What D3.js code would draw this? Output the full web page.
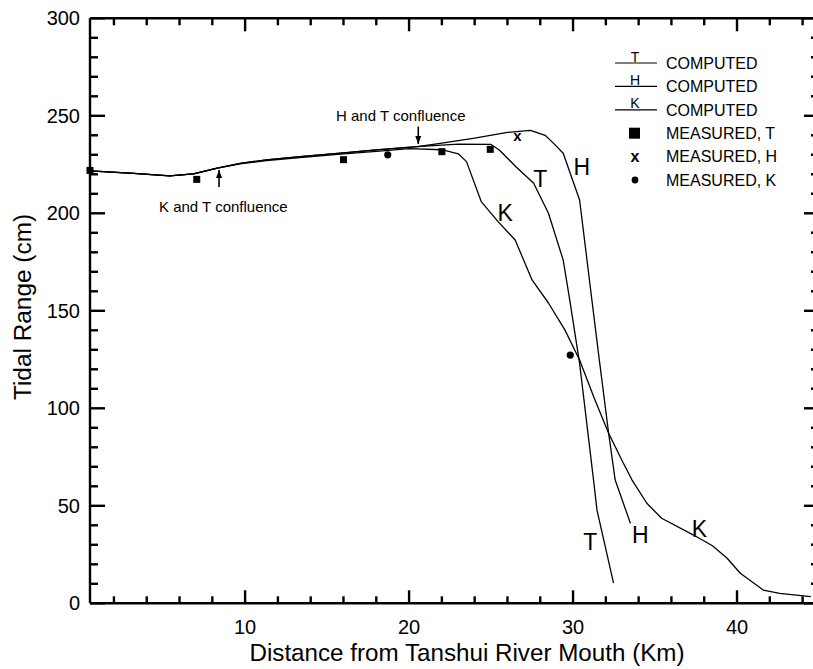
<!DOCTYPE html>
<html>
<head>
<meta charset="utf-8">
<script src="https://cdn.jsdelivr.net/npm/d3@7"></script>
<style>
  body { margin: 0; background: #fff; }
  text { font-family: "Liberation Sans", Arial, Helvetica, sans-serif; fill: #000; }
</style>
</head>
<body>
<svg id="chart" width="813" height="669"></svg>
<script>
// Computed tidal range along each river (distance km, range cm)
const distT  = [0.54, 3.2, 5.4, 6.85, 8.3, 9.7, 11.3, 13.35, 16, 18, 20.5, 23, 25, 25.5, 26.5, 27.6, 28.5, 29.4, 29.8, 30.4, 31.25, 31.46, 32.47];
const rangeT = [221.8, 220.5, 219.2, 220.2, 223.2, 225.6, 227.4, 229.1, 231, 232.5, 234.2, 235.5, 235.3, 232.5, 224, 215.4, 200, 176, 155.5, 123, 63.2, 47.8, 10.3];

const distH  = [0.54, 3.2, 5.4, 6.85, 8.3, 9.7, 11.3, 13.35, 16, 18, 20.5, 22, 24, 26, 27.4, 28.3, 28.8, 29.4, 30.4, 31.15, 31.6, 32.17, 32.57, 33.5];
const rangeH = [221.8, 220.5, 219.2, 220.2, 223.2, 225.6, 227.4, 229.1, 231, 232.5, 234.2, 236, 238.5, 241.5, 242.5, 240, 236, 230.8, 206.8, 155.5, 125, 87.2, 63.2, 41];

const distK  = [0.54, 3.2, 5.4, 6.85, 8.3, 9.7, 11.3, 13.35, 16, 18, 20, 22, 23, 23.5, 24.4, 25.4, 26.47, 27.5, 28.5, 29.5, 30.4, 31.3, 32.17, 33, 33.6, 34.5, 35.4, 37.35, 38.5, 39.4, 40.2, 41.6, 42.6, 44.5];
const rangeK = [221.8, 220.5, 219.2, 220.2, 223.2, 225.4, 227, 228.6, 230.5, 231.8, 233.2, 232.6, 230.5, 226.5, 206, 196, 186.3, 165.8, 154, 140.2, 124.8, 105, 87.2, 73, 63.2, 51.3, 43.6, 35, 29.5, 23.1, 15.4, 6.8, 5.1, 3.4];

// Measured tidal range
const measDistT  = [0.54, 7.05, 16.0, 22.0, 24.95];
const measRangeT = [222, 217.4, 227.5, 231.6, 232.8];
const measDistH  = [26.6];
const measRangeH = [239.5];
const measDistK  = [18.7, 29.83];
const measRangeK = [230, 127.3];

// Axis ticks
const xMajorTicks = [10, 20, 30, 40];
const xMinorTicks = [2, 4, 6, 8, 12, 14, 16, 18, 22, 24, 26, 28, 32, 34, 36, 38, 42, 44];
const yMajorTicks = [0, 50, 100, 150, 200, 250, 300];
const yMinorTicks = [10, 20, 30, 40, 60, 70, 80, 90, 110, 120, 130, 140, 160, 170, 180, 190, 210, 220, 230, 240, 260, 270, 280, 290];

// Curve name labels (km, cm)
const curveLabels = [
  { name: "T", d: 28.0,  r: 217.4 },
  { name: "K", d: 25.86, r: 200 },
  { name: "H", d: 30.54, r: 223.6 },
  { name: "T", d: 31.05, r: 31.6 },
  { name: "H", d: 34.1,  r: 35 },
  { name: "K", d: 37.7,  r: 38.1 }
];

// Confluence annotations: arrow from r0 (tail) to r1 (head)
const confluences = [
  { text: "K and T confluence", d: 8.41,  r0: 213.5, r1: 222.2, tx: 159, ty: 211.7 },
  { text: "H and T confluence", d: 20.56, r0: 244.5, r1: 235.5, tx: 336, ty: 121 }
];

const legendItems = [
  { kind: "line", letter: "T", text: "COMPUTED" },
  { kind: "line", letter: "H", text: "COMPUTED" },
  { kind: "line", letter: "K", text: "COMPUTED" },
  { kind: "square", text: "MEASURED, T" },
  { kind: "cross", text: "MEASURED, H" },
  { kind: "dot", text: "MEASURED, K" }
];

const svg = d3.select("#chart");
const pLeft = 90, pRight = 819, pTop = 18.3, pBottom = 603.3;

const x = d3.scaleLinear().domain([0.54, 45.0]).range([pLeft, pRight]);
const y = d3.scaleLinear().domain([0, 300]).range([pBottom, pTop]);

const plot = svg.append("g");

// Computed curves
const line = d3.line().x(d => x(d[0])).y(d => y(d[1])).curve(d3.curveLinear);
[[distT, rangeT], [distH, rangeH], [distK, rangeK]].forEach(([ds, rs]) => {
  plot.append("path")
    .attr("d", line(ds.map((d, i) => [d, rs[i]])))
    .attr("fill", "none")
    .attr("stroke", "#000")
    .attr("stroke-width", 1.3)
    .attr("stroke-linejoin", "round");
});

// Measured points
plot.selectAll(".sq").data(measDistT.map((d, i) => [d, measRangeT[i]])).join("rect")
  .attr("x", d => x(d[0]) - 3.5).attr("y", d => y(d[1]) - 3.5)
  .attr("width", 7).attr("height", 7).attr("fill", "#000");
plot.selectAll(".cx").data(measDistH.map((d, i) => [d, measRangeH[i]])).join("text")
  .attr("x", d => x(d[0])).attr("y", d => y(d[1]) + 5)
  .attr("text-anchor", "middle").attr("font-size", 15).attr("font-weight", "bold").text("x");
plot.selectAll(".dt").data(measDistK.map((d, i) => [d, measRangeK[i]])).join("circle")
  .attr("cx", d => x(d[0])).attr("cy", d => y(d[1])).attr("r", 3.6).attr("fill", "#000");

// Curve name labels
plot.selectAll(".cl").data(curveLabels).join("text")
  .attr("x", d => x(d.d)).attr("y", d => y(d.r) + 8)
  .attr("text-anchor", "middle").attr("font-size", 23).text(d => d.name);

// Confluence arrows and notes
confluences.forEach(c => {
  const ax = x(c.d);
  const yHead = y(c.r1);
  const yTail = y(c.r0);
  plot.append("line").attr("x1", ax).attr("x2", ax)
    .attr("y1", yTail).attr("y2", yHead).attr("stroke", "#000").attr("stroke-width", 1.6);
  const dir = yTail > yHead ? 1 : -1;
  plot.append("path")
    .attr("d", `M${ax},${yHead} L${ax - 3},${yHead + dir * 8} L${ax + 3},${yHead + dir * 8} Z`)
    .attr("fill", "#000");
  svg.append("text").attr("x", c.tx).attr("y", c.ty).attr("font-size", 15).text(c.text);
});

// Frame and ticks
const axisG = svg.append("g");
const thick = 2.4;
axisG.append("line").attr("x1", pLeft).attr("x2", pRight + 5).attr("y1", pBottom).attr("y2", pBottom).attr("stroke", "#000").attr("stroke-width", thick);
axisG.append("line").attr("x1", pLeft).attr("x2", pRight + 5).attr("y1", pTop).attr("y2", pTop).attr("stroke", "#000").attr("stroke-width", thick);
axisG.append("line").attr("x1", pLeft).attr("x2", pLeft).attr("y1", pTop).attr("y2", pBottom).attr("stroke", "#000").attr("stroke-width", thick);
axisG.append("line").attr("x1", pRight).attr("x2", pRight).attr("y1", pTop).attr("y2", pBottom).attr("stroke", "#000").attr("stroke-width", thick);

function xTicks(vals, len) {
  vals.forEach(v => {
    axisG.append("line").attr("x1", x(v)).attr("x2", x(v)).attr("y1", pBottom).attr("y2", pBottom - len).attr("stroke", "#000").attr("stroke-width", thick);
    axisG.append("line").attr("x1", x(v)).attr("x2", x(v)).attr("y1", pTop).attr("y2", pTop + len).attr("stroke", "#000").attr("stroke-width", thick);
  });
}
function yTicks(vals, len) {
  vals.forEach(v => {
    axisG.append("line").attr("x1", pLeft).attr("x2", pLeft + len).attr("y1", y(v)).attr("y2", y(v)).attr("stroke", "#000").attr("stroke-width", thick);
    axisG.append("line").attr("x1", pRight).attr("x2", pRight - len).attr("y1", y(v)).attr("y2", y(v)).attr("stroke", "#000").attr("stroke-width", thick);
  });
}
xTicks(xMajorTicks, 13); xTicks(xMinorTicks, 7);
yTicks(yMajorTicks, 15); yTicks(yMinorTicks, 8);

// Tick labels
svg.selectAll(".xl").data(xMajorTicks).join("text")
  .attr("x", d => x(d)).attr("y", 634).attr("text-anchor", "middle").attr("font-size", 20).text(d => d);
svg.selectAll(".yl").data(yMajorTicks).join("text")
  .attr("x", 80).attr("y", d => y(d) + 7).attr("text-anchor", "end").attr("font-size", 20).text(d => d);

// Axis titles
svg.append("text").attr("x", 467).attr("y", 661).attr("text-anchor", "middle").attr("font-size", 24.2)
  .text("Distance from Tanshui River Mouth (Km)");
svg.append("text").attr("transform", "translate(31,307) rotate(-90)").attr("text-anchor", "middle").attr("font-size", 24.4)
  .text("Tidal Range (cm)");

// Legend
const lg = svg.append("g");
legendItems.forEach((it, i) => {
  const cy = 63 + i * 23.4;
  if (it.kind === "line") {
    lg.append("line").attr("x1", 615).attr("x2", 657).attr("y1", cy).attr("y2", cy).attr("stroke", "#000").attr("stroke-width", 1.2);
    lg.append("text").attr("x", 635).attr("y", cy - 1.5).attr("text-anchor", "middle").attr("font-size", 14).text(it.letter);
  } else if (it.kind === "square") {
    lg.append("rect").attr("x", 629).attr("y", cy - 5.5).attr("width", 11).attr("height", 11).attr("fill", "#000");
  } else if (it.kind === "cross") {
    lg.append("text").attr("x", 635).attr("y", cy + 5).attr("text-anchor", "middle").attr("font-size", 16).attr("font-weight", "bold").text("x");
  } else {
    lg.append("circle").attr("cx", 635).attr("cy", cy).attr("r", 3.4).attr("fill", "#000");
  }
  lg.append("text").attr("x", 666).attr("y", cy + 5.7).attr("font-size", 16).text(it.text);
});
</script>
</body>
</html>
